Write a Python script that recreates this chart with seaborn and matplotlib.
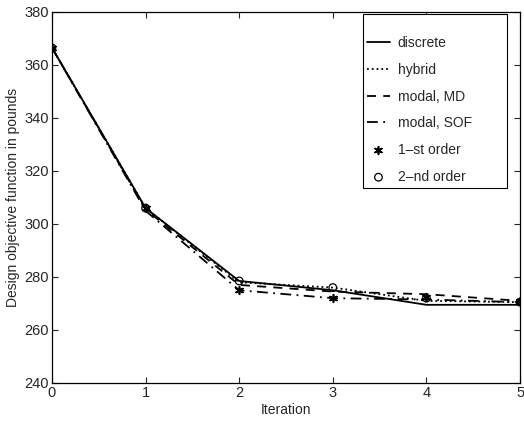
import matplotlib
matplotlib.use('Agg')
import matplotlib.pyplot as plt
from matplotlib.patches import Rectangle
import numpy as np
import pandas as pd
import seaborn as sns

sns.set_style('ticks')
plt.rcParams['font.family'] = ['Liberation Sans', 'DejaVu Sans']
plt.rcParams['xtick.direction'] = 'in'
plt.rcParams['ytick.direction'] = 'in'

iteration = [0, 1, 2, 3, 4, 5]
discrete = [366.5, 306.0, 278.5, 275.0, 269.5, 269.5]
hybrid = [366.5, 306.0, 278.0, 276.0, 271.0, 270.5]
modal_md = [366.5, 305.5, 277.0, 274.5, 273.5, 271.0]
modal_sof = [366.5, 305.0, 275.0, 272.0, 271.5, 270.5]
first_order = [366.5, 306.0, 275.0, 272.0, 272.5, 271.0]
second_order = [366.5, 306.0, 278.5, 276.0, 272.0, 270.5]

fig = plt.figure(figsize=(5.24, 4.21), dpi=100)
ax = fig.add_axes([0.0992, 0.0903, 0.8932, 0.8812])

lines = {'discrete': (discrete, '-'),
         'hybrid': (hybrid, ':'),
         'modal, MD': (modal_md, (0, (5, 4))),
         'modal, SOF': (modal_sof, (0, (6, 3, 1, 3)))}
for name, (vals, ls) in lines.items():
    df = pd.DataFrame({'it': iteration, 'v': vals})
    sns.lineplot(x='it', y='v', data=df, ax=ax, color='black', linewidth=1.3,
                 linestyle=ls, label=name)

df1 = pd.DataFrame({'it': iteration, 'v': first_order})
sns.scatterplot(x='it', y='v', data=df1, ax=ax, marker=(6, 2, 0), s=30,
                color='black', linewidth=1.2, label='1\u2013st order', zorder=5)
df2 = pd.DataFrame({'it': iteration, 'v': second_order})
sns.scatterplot(x='it', y='v', data=df2, ax=ax, marker='o', s=30,
                facecolor='none', edgecolor='black', linewidth=0.9,
                label='2\u2013nd order', zorder=5)

ax.set_xlim(0, 5)
ax.set_ylim(240, 380)
ax.set_xticks(iteration)
ax.set_yticks(np.arange(240, 381, 20))
ax.tick_params(top=True, right=True, labelsize=10.5, length=4, width=0.8, pad=2)
for s in ax.spines.values():
    s.set_linewidth(0.9)
    s.set_color('black')
ax.set_xlabel('Iteration', fontsize=10, labelpad=2)
ax.set_ylabel('Design objective function in pounds', fontsize=10, labelpad=3)

# legend without its own frame, the box is drawn separately (wide top/bottom margins)
leg = ax.legend(loc='upper left', bbox_to_anchor=(367 / 524, 1 - 36 / 421),
                bbox_transform=fig.transFigure, fontsize=10, frameon=False,
                handlelength=1.65, handletextpad=0.55, labelspacing=0.92,
                borderpad=0, borderaxespad=0)
leg.set_zorder(6)
box = Rectangle((363 / 524, 1 - 188 / 421), 144 / 524, 174 / 421,
                transform=fig.transFigure, facecolor='white',
                edgecolor='black', linewidth=0.8, zorder=4, clip_on=False)
ax.add_patch(box)

fig.savefig('out.png', dpi=100)
